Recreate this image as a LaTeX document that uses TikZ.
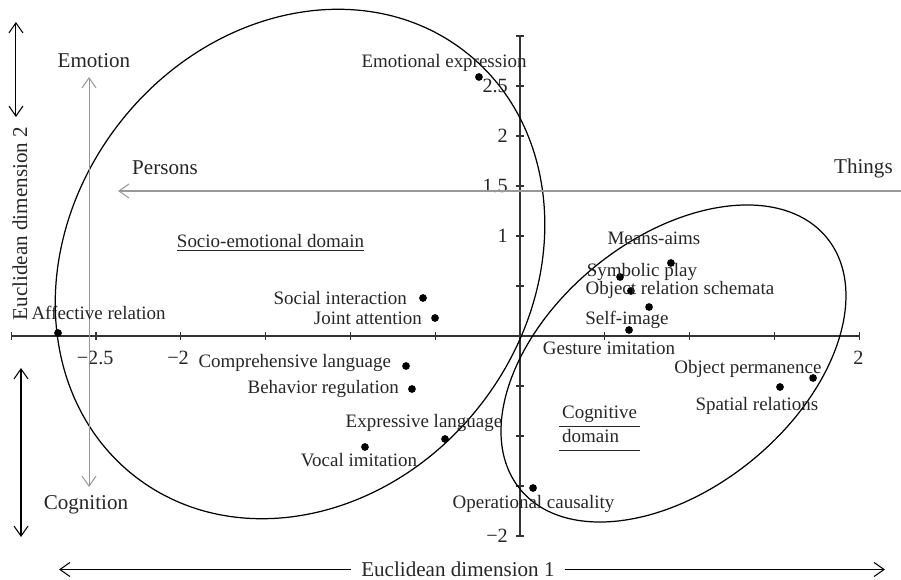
\documentclass[tikz,border=0pt]{standalone}
\usepackage{fontspec}
\setmainfont{Liberation Serif}
\usetikzlibrary{arrows.meta,positioning}
\setlength{\arrayrulewidth}{0.7pt}

\begin{document}
\begin{tikzpicture}[x=3.392cm,y=2cm,>={Straight Barb[length=2mm,width=2.8mm]}]
  \tikzstyle{dot}=[circle,fill=black,inner sep=0pt,minimum size=1.55mm]
  \tikzstyle{lbl}=[font=\fontsize{10.8}{13}\selectfont,text=black!85,inner sep=0pt]
  \tikzstyle{dirlbl}=[font=\fontsize{12}{14}\selectfont,text=black!85,inner sep=0pt]
  \tikzstyle{ticklbl}=[font=\fontsize{11.5}{13}\selectfont,text=black!85,inner sep=0pt]
  \tikzstyle{axis}=[black!80,line width=0.8pt]
  \tikzstyle{guide}=[black!40,line width=0.6pt]
  \useasboundingbox (-3.066,-2.43) rectangle (2.2465,3.36);

  % axes and ticks
  \draw[axis] (-3,0) -- (2,0);
  \draw[axis] (0,-2) -- (0,3);
  \foreach \x in {-3,-2.5,...,2}
    \draw[axis,line width=0.6pt] (\x,-0.04) -- (\x,0.04);
  \foreach \y in {-2,-1.5,...,3}
    \draw[axis,line width=0.6pt] (-0.024,\y) -- (0.024,\y);
  \node[ticklbl] (xm25) at (-2.505,-0.22) {−2.5};
  \node[ticklbl] (xm2) at (-2.016,-0.22) {−2};
  \node[ticklbl] (xp2) at (1.995,-0.22) {2};
  \node[ticklbl,anchor=east] (y25) at (-0.07,2.5) {2.5};
  \node[ticklbl,anchor=east] (y2) at (-0.07,2) {2};
  \node[ticklbl,anchor=east] (y15) at (-0.07,1.5) {1.5};
  \node[ticklbl,anchor=east] (y1) at (-0.07,1) {1};
  \node[ticklbl,anchor=east] (ym2) at (-0.07,-2) {−2};

  % domains
  \draw[line width=0.7pt,rotate around={52.2:(-1.297,0.72)}] (-1.297,0.72) ellipse [x radius=5.38cm,y radius=4.58cm];
  \draw[line width=0.7pt,rotate around={39.4:(0.905,-0.275)}] (0.905,-0.275) ellipse [x radius=3.966cm,y radius=2.494cm];
  \node[lbl] (socio) at (-1.471,0.93) {\underline{Socio-emotional domain}};
  \node[lbl] (cogdom) at (0.469,-0.91) {\begin{tabular}{@{\,}l@{\,}}Cognitive\\\hline domain\\\hline\end{tabular}};

  % persons - things, emotion - cognition
  \node[dirlbl] (persons) at (-2.093,1.68) {Persons};
  \node[dirlbl] (things) at (2.025,1.68) {Things};
  \coordinate (thend) at (2.2465,1.45);
  \coordinate (petip) at (-2.370,1.45);
  \draw[guide,->] (thend) -- (petip);
  \node[dirlbl] (emotion) at (-2.512,2.75) {Emotion};
  \node[dirlbl] (cognition) at (-2.559,-1.69) {Cognition};
  \coordinate (emtip) at (-2.541,2.59);
  \coordinate (cotip) at (-2.541,-1.51);
  \draw[guide,<->] (cotip) -- (emtip);

  % euclidean dimensions
  \node[dirlbl,inner xsep=2mm] (dim1) at (-0.366,-2.335) {Euclidean dimension 1};
  \coordinate (d1left) at (-2.718,-2.335);
  \coordinate (d1right) at (2.152,-2.335);
  \draw[->,line width=0.6pt] (dim1) -- (d1left);
  \draw[->,line width=0.6pt] (dim1) -- (d1right);
  \node[dirlbl,rotate=90] (dim2) at (-2.948,1.125) {Euclidean dimension 2};
  \coordinate (d2top) at (-2.972,3.14);
  \coordinate (d2mid) at (-2.972,2.19);
  \coordinate (d2low) at (-2.942,-0.32);
  \coordinate (d2bot) at (-2.942,-2.01);
  \draw[<->,line width=0.6pt] (d2mid) -- (d2top);
  \draw[<->,line width=0.6pt] (d2low) -- (d2bot);

  % socio-emotional items
  \node[dot] (ee) at (-0.242,2.59) {};
  \node[lbl] (ee-l) at (-0.448,2.73) {Emotional expression};
  \node[dot] (ar) at (-2.724,0.03) {};
  \node[lbl] (ar-l) at (-2.485,0.23) {Affective relation};
  \node[dot] (si) at (-0.572,0.38) {};
  \node[lbl,left=2.3mm of si] (si-l) {Social interaction};
  \node[dot] (ja) at (-0.501,0.18) {};
  \node[lbl,left=1.7mm of ja] (ja-l) {Joint attention};
  \node[dot] (cl) at (-0.672,-0.30) {};
  \node[lbl,left=2.1mm of cl,yshift=0.6mm] (cl-l) {Comprehensive language};
  \node[dot] (br) at (-0.637,-0.53) {};
  \node[lbl,left=1.7mm of br] (br-l) {Behavior regulation};
  \node[dot] (el) at (-0.442,-1.03) {};
  \node[lbl] (el-l) at (-0.566,-0.87) {Expressive language};
  \node[dot] (vi) at (-0.914,-1.11) {};
  \node[lbl] (vi-l) at (-0.949,-1.24) {Vocal imitation};

  % cognitive items
  \node[dot] (oc) at (0.077,-1.52) {};
  \node[lbl] (oc-l) at (0.080,-1.68) {Operational causality};
  \node[dot] (ma) at (0.890,0.73) {};
  \node[lbl] (ma-l) at (0.790,0.98) {Means-aims};
  \node[dot] (sp) at (0.590,0.59) {};
  \node[lbl] (sp-l) at (0.719,0.64) {Symbolic play};
  \node[dot] (ors) at (0.654,0.45) {};
  \node[lbl] (ors-l) at (0.943,0.46) {Object relation schemata};
  \node[dot] (sim) at (0.761,0.29) {};
  \node[lbl] (sim-l) at (0.631,0.16) {Self-image};
  \node[dot] (gi) at (0.643,0.06) {};
  \node[lbl] (gi-l) at (0.525,-0.12) {Gesture imitation};
  \node[dot] (op) at (1.728,-0.42) {};
  \node[lbl] (op-l) at (1.344,-0.33) {Object permanence};
  \node[dot] (sr) at (1.533,-0.51) {};
  \node[lbl] (sr-l) at (1.397,-0.70) {Spatial relations};
\end{tikzpicture}
\end{document}
